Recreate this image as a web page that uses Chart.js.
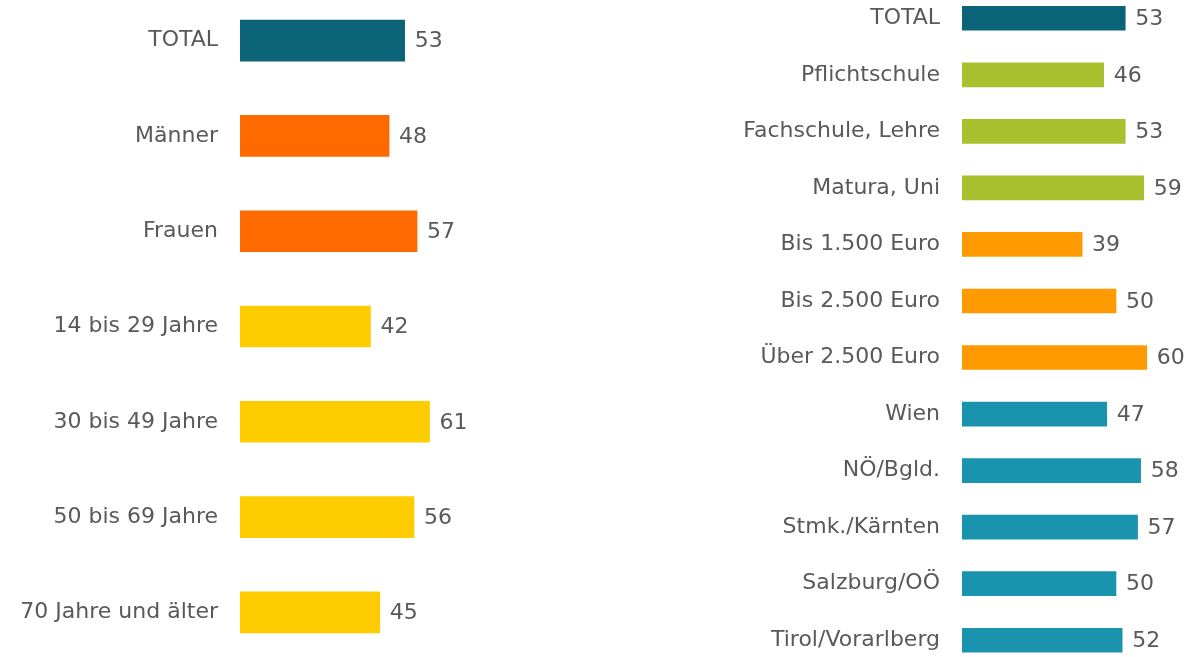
<!DOCTYPE html>
<html>
<head>
<meta charset="utf-8">
<script src="https://cdn.jsdelivr.net/npm/chart.js@4"></script>
<style>
  html, body { margin:0; padding:0; background:#fff; width:1191px; height:657px; overflow:hidden; }
  #leftWrap  { position:absolute; left:0;     top:-6.7px;  width:473px; height:667px; }
  #rightWrap { position:absolute; left:700px; top:-10.3px; width:493px; height:678.5px; }
</style>
</head>
<body>
<div id="leftWrap"><canvas id="leftCanvas"></canvas></div>
<div id="rightWrap"><canvas id="rightCanvas"></canvas></div>
<script>
/* ---------- data ---------- */
const leftLabels = ["TOTAL", "Männer", "Frauen", "14 bis 29 Jahre", "30 bis 49 Jahre", "50 bis 69 Jahre", "70 Jahre und älter"];
const leftValues = [53, 48, 57, 42, 61, 56, 45];

const rightLabels = ["TOTAL", "Pflichtschule", "Fachschule, Lehre", "Matura, Uni",
                     "Bis 1.500 Euro", "Bis 2.500 Euro", "Über 2.500 Euro",
                     "Wien", "NÖ/Bgld.", "Stmk./Kärnten", "Salzburg/OÖ", "Tirol/Vorarlberg"];
const rightValues = [53, 46, 53, 59, 39, 50, 60, 47, 58, 57, 50, 52];

/* ---------- colours ---------- */
const TEAL_DARK = "#0b6378", ORANGE = "#ff6a00", YELLOW = "#ffcc00",
      GREEN = "#a9c02f", AMBER = "#ff9a00", TEAL = "#1a93ae";
const leftColors  = [TEAL_DARK, ORANGE, ORANGE, YELLOW, YELLOW, YELLOW, YELLOW];
const rightColors = [TEAL_DARK, GREEN, GREEN, GREEN, AMBER, AMBER, AMBER, TEAL, TEAL, TEAL, TEAL, TEAL];

const TEXT = "#595959";
const FONT = "'DejaVu Sans', Verdana, sans-serif";

/* value labels right of each bar */
const valueLabels = {
  id: "valueLabels",
  afterDatasetsDraw(chart, args, opts) {
    const ctx = chart.ctx;
    const meta = chart.getDatasetMeta(0);
    ctx.save();
    ctx.fillStyle = TEXT;
    ctx.font = opts.size + "px " + FONT;
    ctx.textAlign = "left";
    ctx.textBaseline = "middle";
    meta.data.forEach((bar, i) => {
      ctx.fillText(chart.data.datasets[0].data[i], bar.x + opts.gap, bar.y + 1);
    });
    ctx.restore();
  }
};

function buildBars(canvasId, labels, values, colors, o) {
  return new Chart(document.getElementById(canvasId), {
    type: "bar",
    data: { labels, datasets: [{ data: values, backgroundColor: colors, barThickness: o.thick }] },
    plugins: [valueLabels],
    options: {
      indexAxis: "y",
      responsive: true,
      maintainAspectRatio: false,
      animation: false,
      layout: { padding: 0 },
      scales: {
        x: { display: false, min: 0, max: 75 },
        y: {
          // fixed axis width, and no extra vertical room for the labels
          afterFit: s => { s.width = o.axisW; s.paddingTop = 0; s.paddingBottom = 0; },
          grid: { display: false, drawTicks: false },
          border: { display: false },
          ticks: { color: TEXT, font: { family: FONT, size: o.size }, padding: 22 }
        }
      },
      plugins: {
        legend: { display: false },
        tooltip: { enabled: false },
        valueLabels: { size: o.size, gap: 10 }
      }
    }
  });
}

buildBars("leftCanvas",  leftLabels,  leftValues,  leftColors,  { thick: 41, axisW: 240, size: 22 });
buildBars("rightCanvas", rightLabels, rightValues, rightColors, { thick: 24, axisW: 262, size: 22 });
</script>
</body>
</html>
